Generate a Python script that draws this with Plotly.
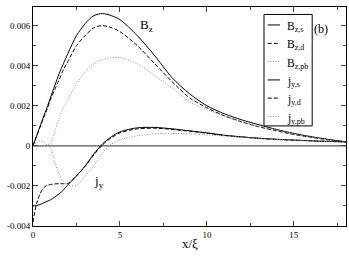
import plotly.graph_objects as go

x = [0, 0.2, 0.4, 0.6, 0.8, 1, 1.25, 1.5, 1.75, 2, 2.5, 3, 3.5, 4, 4.5, 5,
     6, 7, 8, 9, 10, 11, 12, 13, 14, 15, 16, 17, 18]

bz_s = [0, 0.00048, 0.00096, 0.00144, 0.0019, 0.0024, 0.003, 0.0036, 0.0041, 0.0046,
        0.0055, 0.0061, 0.0065, 0.0066, 0.0065, 0.0063, 0.0055, 0.0045, 0.0034, 0.0026,
        0.0020, 0.0016, 0.0013, 0.00105, 0.00082, 0.00062, 0.00046, 0.00032, 0.0002]
bz_d = [0, 0.00046, 0.00092, 0.00138, 0.0018, 0.0023, 0.0028, 0.0033, 0.0038, 0.0042,
        0.0050, 0.0055, 0.0059, 0.0060, 0.0059, 0.0057, 0.0050, 0.0041, 0.0032, 0.0024,
        0.0019, 0.0015, 0.0012, 0.00095, 0.00075, 0.00057, 0.00043, 0.0003, 0.0002]
bz_pb = [0, 0.00001, 0.00002, 0.00002, 0.00004, 0.0001, 0.0007, 0.0014, 0.0019, 0.0023,
         0.0031, 0.0037, 0.0041, 0.0043, 0.0044, 0.0044, 0.0041, 0.0035, 0.0029, 0.0022,
         0.0018, 0.0015, 0.0012, 0.00097, 0.00078, 0.0006, 0.00045, 0.0003, 0.0002]
jy_s = [-0.0030, -0.00298, -0.00293, -0.00285, -0.00277, -0.0027, -0.00255, -0.0024,
        -0.0022, -0.00195, -0.0015, -0.001, -0.0004, 0.0001, 0.00045, 0.0007, 0.0009,
        0.00092, 0.00085, 0.00075, 0.00065, 0.00053, 0.00045, 0.00038, 0.00033, 0.00029,
        0.00025, 0.00022, 0.0002]
jy_d = [-0.0038, -0.0029, -0.0024, -0.0021, -0.00198, -0.00193, -0.0019, -0.00189,
        -0.00189, -0.00188, -0.0015, -0.00102, -0.00045, 0.00005, 0.0004, 0.00065, 0.00085,
        0.00088, 0.00082, 0.00073, 0.00063, 0.00052, 0.00044, 0.00037, 0.00032, 0.00028,
        0.00025, 0.00022, 0.0002]
jy_pb = [0, 0.00015, 0.00025, 0.0002, 0.00005, -0.0001, -0.0008, -0.0014, -0.0018,
         -0.00195, -0.00198, -0.0015, -0.001, -0.00035, 0.00008, 0.0003, 0.0005, 0.0006,
         0.00062, 0.0006, 0.00055, 0.00049, 0.00043, 0.00037, 0.00032, 0.00028, 0.00025,
         0.00022, 0.0002]

names = ["B<sub>z,s</sub>", "B<sub>z,d</sub>", "B<sub>z,pb</sub>",
         "j<sub>y,s</sub>", "j<sub>y,d</sub>", "j<sub>y,pb</sub>"]
series = [bz_s, bz_d, bz_pb, jy_s, jy_d, jy_pb]
dashes = ["solid", "4px,2px", "1px,1.6px", "solid", "4px,2px", "1px,1.6px"]
colors = ["#000000", "#000000", "#8c8c8c", "#000000", "#000000", "#8c8c8c"]

xticks = [0, 5, 10, 15]
yticks = [-0.004, -0.002, 0, 0.002, 0.004, 0.006]
ytick_labels = ["-0.004", "-0.002", "0", "0.002", "0.004", "0.006"]

font = "Liberation Serif, Times New Roman, serif"

fig = go.Figure()
for n, s, d, c in zip(names, series, dashes, colors):
    fig.add_trace(go.Scatter(x=x, y=s, name=n, mode="lines", showlegend=False,
                             line=dict(color=c, dash=d, width=1, shape="spline", smoothing=0.8)))

fig.update_layout(
    width=349, height=270,
    margin=dict(l=33, r=3, t=7, b=44),
    paper_bgcolor="white", plot_bgcolor="white",
    font=dict(family=font, size=9, color="black"),
    showlegend=False,
)

# zero line
fig.add_hline(y=0, line=dict(color="#555555", width=1.2), layer="below")

# hand-built legend box (paper coordinates)
fig.add_shape(type="rect", xref="paper", yref="paper", x0=0.738, x1=0.892, y0=0.457, y1=0.966,
              line=dict(color="black", width=1), fillcolor="white", layer="above")
entry_y = [0.918, 0.834, 0.751, 0.667, 0.584, 0.500]
for n, d, c, ey in zip(names, dashes, colors, entry_y):
    fig.add_shape(type="line", xref="paper", yref="paper", x0=0.750, x1=0.789, y0=ey, y1=ey,
                  line=dict(color=c, dash=d, width=1), layer="above")
    fig.add_annotation(x=0.806, y=ey, xref="paper", yref="paper", text=n, showarrow=False,
                       xanchor="left", yanchor="middle", yshift=-2,
                       font=dict(family=font, size=11.5))

fig.add_annotation(x=6.55, y=0.006, xref="x", yref="y", text="B<sub>z</sub>", showarrow=False,
                   font=dict(family=font, size=13))
fig.add_annotation(x=3.8, y=-0.0018, xref="x", yref="y", text="j<sub>y</sub>", showarrow=False,
                   font=dict(family=font, size=13))
fig.add_annotation(x=0.948, y=0.94, xref="paper", yref="paper", text="(b)", showarrow=False,
                   font=dict(family=font, size=12))
fig.add_annotation(x=0.5, y=-0.078, xref="paper", yref="paper", text="x/ξ", showarrow=False,
                   yanchor="middle", font=dict(family=font, size=13))

fig.update_xaxes(range=[0, 18], tickvals=xticks, ticks="inside", ticklen=5,
                 showline=True, linecolor="black", linewidth=1, mirror="ticks",
                 showgrid=False, zeroline=False, automargin=False,
                 minor=dict(ticks="inside", dtick=2.5, ticklen=3, tick0=0))
fig.update_yaxes(range=[-0.004, 0.00693], tickvals=yticks, ticktext=ytick_labels,
                 ticks="inside", ticklen=5, automargin=False,
                 showline=True, linecolor="black", linewidth=1, mirror="ticks",
                 showgrid=False, zeroline=False,
                 minor=dict(ticks="inside", dtick=0.001, ticklen=3, tick0=0))

fig.write_html("out.html", config={"displayModeBar": False},
               post_script="document.body.style.margin='0';")
